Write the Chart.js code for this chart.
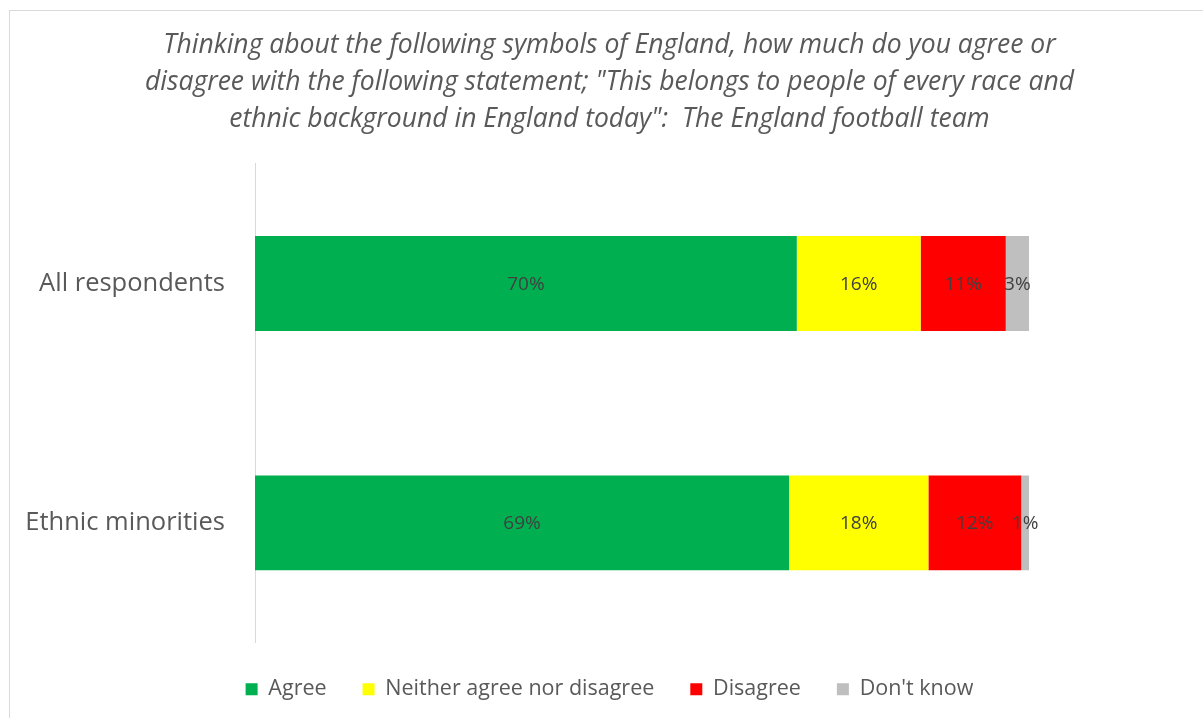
<!DOCTYPE html>
<html>
<head>
<meta charset="utf-8">
<script src="https://cdn.jsdelivr.net/npm/chart.js@4/dist/chart.umd.min.js"></script>
<style>
  html, body { margin: 0; padding: 0; background: #ffffff; overflow: hidden; }
  #wrap { position: relative; width: 1203px; height: 718px; }
  #frame { position: absolute; left: 9px; top: 10px; width: 1300px; height: 800px; border: 1px solid #d9d9d9; box-sizing: border-box; }
  canvas { position: absolute; left: 0; top: 0; }
</style>
</head>
<body>
<div id="wrap">
  <div id="frame"></div>
  <canvas id="chart" width="1203" height="718"></canvas>
</div>
<script>
const categories = ['All respondents', 'Ethnic minorities'];
const seriesNames = ['Agree', 'Neither agree nor disagree', 'Disagree', "Don't know"];
const agree = [70, 69];
const neither = [16, 18];
const disagree = [11, 12];
const dontKnow = [3, 1];
const seriesColors = ['#00B050', '#FFFF00', '#FF0000', '#BFBFBF'];
const titleLines = [
  'Thinking about the following symbols of England, how much do you agree or',
  'disagree with the following statement; "This belongs to people of every race and',
  'ethnic background in England today":  The England football team'
];

const FONT = "'Open Sans', 'Noto Sans', sans-serif";

// Writes each segment's percentage in the middle of its bar piece
const segmentLabels = {
  id: 'segmentLabels',
  afterDatasetsDraw(chart) {
    const ctx = chart.ctx;
    ctx.save();
    ctx.font = '19px ' + FONT;
    ctx.fillStyle = '#404040';
    ctx.textAlign = 'center';
    ctx.textBaseline = 'middle';
    chart.data.datasets.forEach((ds, i) => {
      const meta = chart.getDatasetMeta(i);
      meta.data.forEach((bar, j) => {
        const v = ds.data[j];
        const cx = (bar.x + bar.base) / 2;
        ctx.fillText(v + '%', cx, bar.y + 1);
      });
    });
    ctx.restore();
  }
};

const allSeries = [agree, neither, disagree, dontKnow];

new Chart(document.getElementById('chart'), {
  type: 'bar',
  data: {
    labels: categories,
    datasets: seriesNames.map((name, i) => ({
      label: name,
      data: allSeries[i],
      backgroundColor: seriesColors[i],
      borderWidth: 0,
      categoryPercentage: 1,
      barPercentage: 0.397
    }))
  },
  options: {
    indexAxis: 'y',
    responsive: false,
    animation: false,
    devicePixelRatio: 1,
    layout: { padding: { top: 0, right: 0, bottom: 8, left: 16 } },
    scales: {
      x: {
        stacked: true,
        min: 0,
        max: 122.48,
        display: false
      },
      y: {
        stacked: true,
        grid: { display: false, drawTicks: false },
        border: { display: true, color: '#d9d9d9', width: 1 },
        ticks: {
          color: '#595959',
          font: { family: FONT, size: 25.5 },
          padding: 30
        },
        afterFit(scale) { scale.width = 239; }
      }
    },
    plugins: {
      title: {
        display: true,
        text: titleLines,
        color: '#595959',
        font: { family: FONT, size: 26.5, style: 'italic', weight: 'normal', lineHeight: 1.396 },
        padding: { top: 27, bottom: 26 }
      },
      legend: {
        position: 'bottom',
        labels: {
          color: '#595959',
          font: { family: FONT, size: 21.5 },
          boxWidth: 12,
          boxHeight: 12,
          padding: 36
        }
      },
      tooltip: { enabled: false }
    }
  },
  plugins: [segmentLabels]
});
</script>
</body>
</html>
